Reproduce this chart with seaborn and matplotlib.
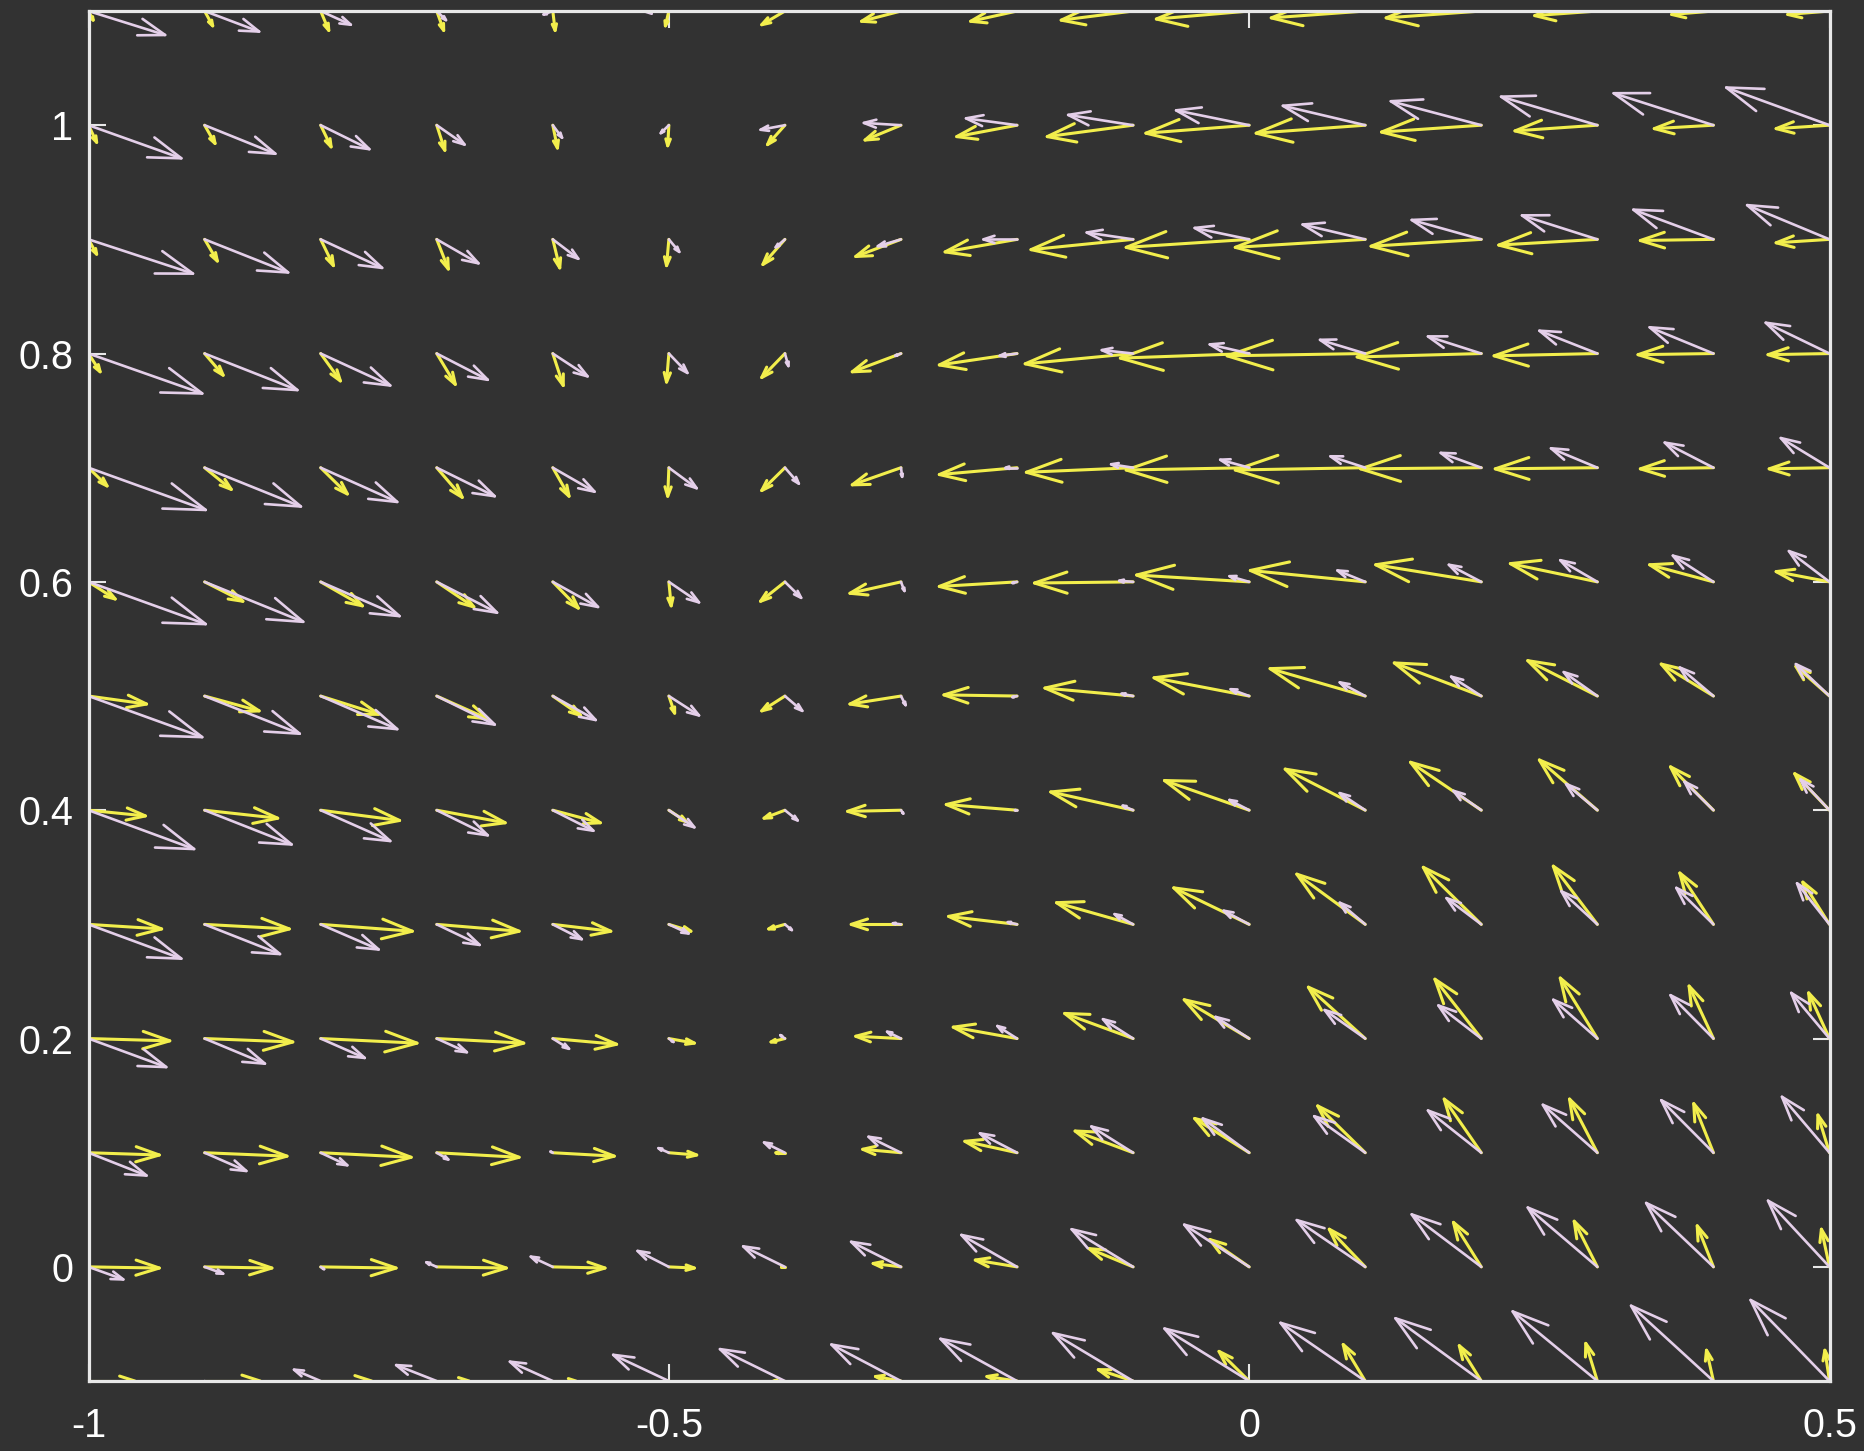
import numpy as np
import matplotlib
matplotlib.use("Agg")
import matplotlib.pyplot as plt
from matplotlib.collections import LineCollection
import seaborn as sns

# ---------------- data ----------------
x_levels = [-1.0, -0.9, -0.8, -0.7, -0.6, -0.5, -0.4, -0.3, -0.2, -0.1,
            0.0, 0.1, 0.2, 0.3, 0.4, 0.5]
# rows listed from top (y = 1.1) to bottom (y = -0.1)
y_levels = [1.1, 1.0, 0.9, 0.8, 0.7, 0.6, 0.5, 0.4, 0.3, 0.2, 0.1, 0.0, -0.1]

yellow_u = [
    [.004, .007, .007, .006, .002, -.003, -.020, -.034, -.040, -.062, -.080, -.081, -.082, -.054, -.036, -.036],
    [.007, .009, .009, .007, .004, -.001, -.015, -.031, -.052, -.074, -.089, -.094, -.086, -.071, -.051, -.046],
    [.007, .011, .011, .010, .006, -.002, -.019, -.039, -.062, -.088, -.106, -.112, -.095, -.085, -.063, -.046],
    [.010, .016, .017, .016, .009, -.002, -.020, -.042, -.067, -.093, -.111, -.119, -.107, -.089, -.065, -.053],
    [.016, .023, .023, .022, .014, -.001, -.020, -.042, -.067, -.092, -.106, -.112, -.104, -.088, -.063, -.052],
    [.023, .033, .036, .032, .022, .002, -.021, -.044, -.067, -.085, -.097, -.099, -.091, -.075, -.055, -.046],
    [.050, .047, .050, .044, .024, .005, -.020, -.044, -.063, -.076, -.082, -.082, -.075, -.060, -.045, -.029],
    [.049, .063, .068, .059, .041, .015, -.018, -.046, -.061, -.071, -.073, -.069, -.061, -.050, -.037, -.030],
    [.063, .073, .079, .071, .050, .019, -.014, -.043, -.059, -.066, -.065, -.059, -.050, -.038, -.029, -.023],
    [.070, .076, .083, .075, .055, .022, -.012, -.039, -.055, -.059, -.056, -.049, -.040, -.032, -.021, -.018],
    [.061, .071, .078, .071, .053, .024, -.008, -.033, -.045, -.050, -.047, -.041, -.032, -.024, -.017, -.010],
    [.061, .058, .065, .060, .045, .022, -.003, -.024, -.036, -.038, -.034, -.031, -.024, -.020, -.014, -.007],
    [.040, .048, .044, .028, .020, .005, -.010, -.022, -.026, -.030, -.026, -.019, -.019, -.010, -.006, -.004],
]
yellow_v = [
    [-.008, -.013, -.017, -.017, -.017, -.013, -.012, -.009, -.009, -.008, -.007, -.006, -.006, -.004, -.003, -.003],
    [-.015, -.016, -.019, -.022, -.020, -.018, -.017, -.013, -.010, -.010, -.007, -.007, -.006, -.005, -.003, -.003],
    [-.013, -.019, -.023, -.026, -.025, -.023, -.022, -.015, -.011, -.009, -.007, -.007, -.006, -.005, -.001, -.003],
    [-.016, -.019, -.024, -.027, -.028, -.025, -.021, -.016, -.010, -.009, -.004, -.002, -.003, -.002, -.001, -.001],
    [-.016, -.019, -.023, -.026, -.025, -.025, -.020, -.015, -.006, -.004, -.002, -.002, -.001, -.001, -.001, -.001],
    [-.015, -.017, -.021, -.022, -.023, -.021, -.017, -.010, -.004, -.001, .006, .010, .015, .016, .015, .009],
    [-.007, -.013, -.016, -.020, -.017, -.015, -.013, -.007, .001, .007, .016, .024, .029, .031, .028, .026],
    [-.005, -.007, -.009, -.011, -.011, -.010, -.007, -.001, .005, .016, .026, .036, .042, .044, .038, .032],
    [-.004, -.004, -.006, -.006, -.006, -.006, -.004, .000, .007, .019, .032, .044, .050, .051, .045, .037],
    [-.002, -.003, -.004, -.004, -.005, -.004, -.003, .002, .010, .022, .034, .045, .052, .053, .046, .040],
    [-.002, -.003, -.004, -.004, -.003, -.002, .000, .003, .010, .019, .030, .041, .047, .047, .043, .033],
    [-.001, -.001, -.001, -.001, -.001, -.001, .000, .003, .006, .016, .024, .033, .039, .040, .036, .033],
    [.000, .000, .000, .000, .000, -.010, .000, .004, .004, .010, .026, .032, .031, .033, .027, .027],
]
pink_u = [
    [.066, .047, .026, .008, -.008, -.022, -.025, -.035, -.048, -.058, -.066, -.074, -.080, -.085, -.088, -.090],
    [.080, .061, .042, .024, .008, -.007, -.021, -.032, -.044, -.056, -.063, -.071, -.078, -.083, -.086, -.089],
    [.090, .072, .053, .036, .022, .009, -.008, -.020, -.029, -.040, -.047, -.054, -.060, -.065, -.069, -.071],
    [.098, .080, .060, .044, .030, .016, .003, -.005, -.015, -.027, -.034, -.039, -.046, -.050, -.055, -.055],
    [.101, .083, .066, .050, .036, .024, .012, .001, -.010, -.019, -.025, -.030, -.035, -.040, -.042, -.042],
    [.101, .085, .068, .052, .039, .026, .014, .003, -.004, -.012, -.017, -.024, -.028, -.032, -.035, -.035],
    [.098, .082, .066, .050, .037, .026, .015, .004, -.004, -.010, -.016, -.022, -.026, -.029, -.029, -.029],
    [.091, .075, .060, .044, .035, .022, .011, .002, -.002, -.009, -.017, -.022, -.024, -.027, -.025, -.025],
    [.080, .065, .050, .037, .025, .017, .006, -.007, -.008, -.016, -.022, -.022, -.030, -.031, -.032, -.028],
    [.067, .052, .038, .026, .014, .004, -.004, -.012, -.017, -.026, -.029, -.035, -.037, -.038, -.037, -.033],
    [.050, .036, .023, .010, -.002, -.009, -.018, -.028, -.032, -.036, -.040, -.044, -.046, -.047, -.045, -.041],
    [.030, .016, .003, -.009, -.019, -.027, -.036, -.043, -.048, -.053, -.056, -.059, -.060, -.060, -.058, -.053],
    [.012, .004, -.023, -.035, -.037, -.048, -.056, -.060, -.066, -.069, -.073, -.073, -.074, -.073, -.071, -.068],
]
pink_v = [
    [-.021, -.018, -.012, -.008, -.003, .000, .004, .008, .012, .015, .019, .023, .027, .031, .035, .039],
    [-.029, -.025, -.021, -.017, -.011, -.007, -.004, .002, .006, .009, .013, .017, .021, .025, .028, .033],
    [-.030, -.029, -.025, -.021, -.017, -.011, -.007, -.006, .000, .006, .010, .013, .017, .021, .026, .030],
    [-.035, -.032, -.028, -.023, -.020, -.017, -.011, -.002, -.002, .003, .008, .012, .015, .020, .023, .027],
    [-.037, -.034, -.030, -.025, -.021, -.018, -.014, -.008, .000, .003, .007, .010, .013, .017, .022, .026],
    [-.037, -.035, -.030, -.027, -.022, -.018, -.014, -.008, -.001, .001, .005, .010, .015, .019, .023, .027],
    [-.036, -.033, -.029, -.025, -.021, -.017, -.013, -.008, -.001, .002, .006, .012, .017, .021, .025, .028],
    [-.034, -.030, -.027, -.022, -.018, -.015, -.009, -.003, .000, .004, .009, .015, .017, .023, .025, .027],
    [-.030, -.026, -.022, -.018, -.013, -.008, -.005, .001, .002, .009, .012, .019, .023, .029, .032, .036],
    [-.025, -.022, -.017, -.012, -.009, -.003, .003, .006, .011, .017, .019, .025, .029, .034, .038, .040],
    [-.020, -.016, -.011, -.006, .001, .004, .009, .014, .017, .023, .030, .032, .037, .042, .046, .049],
    [-.011, -.006, -.002, .004, .009, .014, .018, .022, .028, .033, .037, .041, .046, .052, .056, .058],
    [-.005, -.002, .010, .014, .017, .023, .028, .032, .037, .042, .046, .051, .055, .061, .066, .071],
]

x_ticks = [-1.0, -0.5, 0.0, 0.5]
x_tick_labels = ["-1", "-0.5", "0", "0.5"]
y_ticks = [0.0, 0.2, 0.4, 0.6, 0.8, 1.0]
y_tick_labels = ["0", "0.2", "0.4", "0.6", "0.8", "1"]

# ---------------- style ----------------
BG = "#323232"
FG = "#e8e8e8"
YELLOW = "#f2ee4c"
PINK = "#e4cfe9"

sns.set_theme(style="dark", rc={
    "figure.facecolor": BG,
    "axes.facecolor": BG,
    "axes.edgecolor": FG,
    "axes.grid": False,
    "xtick.color": FG,
    "ytick.color": FG,
    "text.color": FG,
})
plt.rcParams["font.family"] = ["Liberation Sans", "DejaVu Sans"]
plt.rcParams["axes.unicode_minus"] = False

fig = plt.figure(figsize=(18.64, 14.51), dpi=100)
ax = fig.add_axes([0.0475, 0.0482, 0.934, 0.9442])


def arrow_segments(u, v, alpha=0.33, beta=0.33):
    """MATLAB-style quiver arrows (shaft + open two-barb head) in data units."""
    X, Y = np.meshgrid(np.asarray(x_levels), np.asarray(y_levels))
    U = np.asarray(u, dtype=float)
    V = np.asarray(v, dtype=float)
    tx, ty = X + U, Y + V
    tail = np.stack([X, Y], -1)
    tip = np.stack([tx, ty], -1)
    shafts = np.stack([tail, tip], -2).reshape(-1, 2, 2)
    b1 = np.stack([tx - alpha * (U + beta * V), ty - alpha * (V - beta * U)], -1)
    b2 = np.stack([tx - alpha * (U - beta * V), ty - alpha * (V + beta * U)], -1)
    heads = np.stack([b1, tip, b2], -2).reshape(-1, 3, 2)
    return list(shafts) + list(heads)


ax.add_collection(LineCollection(arrow_segments(yellow_u, yellow_v), colors=YELLOW,
                                 linewidths=2.2, capstyle="round", joinstyle="round", zorder=2))
ax.add_collection(LineCollection(arrow_segments(pink_u, pink_v), colors=PINK,
                                 linewidths=1.9, capstyle="round", joinstyle="round", zorder=3))

ax.set_xlim(-1.0, 0.5)
ax.set_ylim(-0.1, 1.1)
ax.set_xticks(x_ticks)
ax.set_xticklabels(x_tick_labels)
ax.set_yticks(y_ticks)
ax.set_yticklabels(y_tick_labels)

for side in ["left", "right", "top", "bottom"]:
    ax.spines[side].set_visible(True)
    ax.spines[side].set_color(FG)
    ax.spines[side].set_linewidth(2.3)
    ax.spines[side].set_zorder(5)

ax.tick_params(axis="both", which="major", direction="in", length=12, width=1.5,
               color=FG, labelcolor="#ffffff", labelsize=28.5,
               top=True, right=True, bottom=True, left=True)
ax.tick_params(axis="x", pad=19)
ax.tick_params(axis="y", pad=11)
ax.set_xlabel("")
ax.set_ylabel("")

fig.savefig("out.png", dpi=100, facecolor=BG)
